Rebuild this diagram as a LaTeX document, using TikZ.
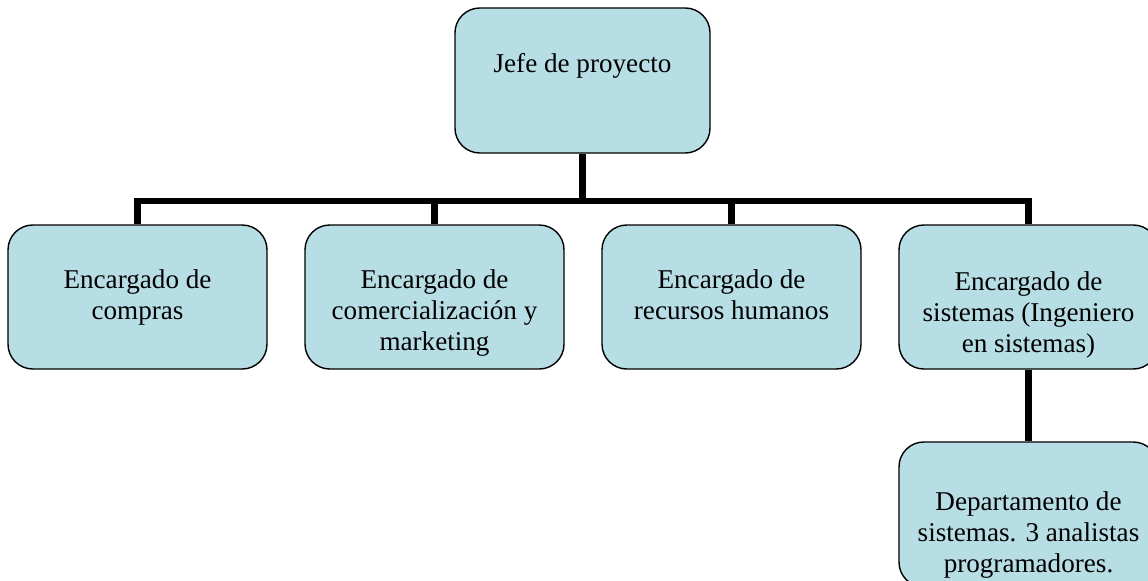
\documentclass[tikz,border=0pt]{standalone}
\usepackage{fontspec}
\setmainfont{Liberation Serif}
\usepackage{tikz}
\usetikzlibrary{positioning,calc}
\definecolor{cajafill}{RGB}{183,222,228}
\tikzset{
  % cajas del organigrama
  caja/.style   = {draw=black, line width=1pt, fill=cajafill,
                   rounded corners=0.62cm, minimum width=6.475cm,
                   minimum height=3.6cm, inner sep=0pt},
  % texto de cada caja, alineado arriba
  texto/.style  = {anchor=north, align=center, inner sep=0pt,
                   font=\fontsize{19.3}{22}\selectfont},
  % lineas de union
  conector/.style = {line width=4.3pt, draw=black, line join=miter},
}
\begin{document}
\begin{tikzpicture}
  \useasboundingbox (0,0) rectangle (28.7,-14.525);
  % jefe
  \node[caja, minimum width=6.375cm, minimum height=3.625cm] (jefe) at (14.5625,-2.0125) {};
  \node[texto] (jefeT) at ([yshift=-1.15cm]jefe.north) {Jefe de proyecto};
  % encargados
  \node[caja] (compras) at (3.4375,-7.425) {};
  \node[texto] (comprasT) at ([yshift=-1.125cm]compras.north) {Encargado de\\compras};
  \node[caja] (comercial) at (10.8625,-7.425) {};
  \node[texto] (comercialT) at ([yshift=-1.125cm]comercial.north) {Encargado de\\comercialización y\\marketing};
  \node[caja] (rrhh) at (18.2875,-7.425) {};
  \node[texto] (rrhhT) at ([yshift=-1.125cm]rrhh.north) {Encargado de\\recursos humanos};
  \node[caja] (sistemas) at (25.7125,-7.425) {};
  \node[texto] (sistemasT) at ([yshift=-1.175cm]sistemas.north) {Encargado de\\sistemas (Ingeniero\\en sistemas)};
  % departamento de sistemas
  \node[caja, minimum height=3.625cm] (depto) at (25.7125,-12.8625) {};
  \node[texto] (deptoT) at ([yshift=-1.25cm]depto.north) {Departamento de\\sistemas. 3 analistas\\programadores.};
  % lineas
  \coordinate (bus) at (0,-5.025);
  \draw[conector] (jefe.south) -- (jefe.south |- bus);
  \draw[conector] (compras.north) |- (sistemas.north |- bus) -- (sistemas.north);
  \draw[conector] (comercial.north) -- (comercial.north |- bus);
  \draw[conector] (rrhh.north) -- (rrhh.north |- bus);
  \draw[conector] (sistemas.south) -- (depto.north);
\end{tikzpicture}
\end{document}
